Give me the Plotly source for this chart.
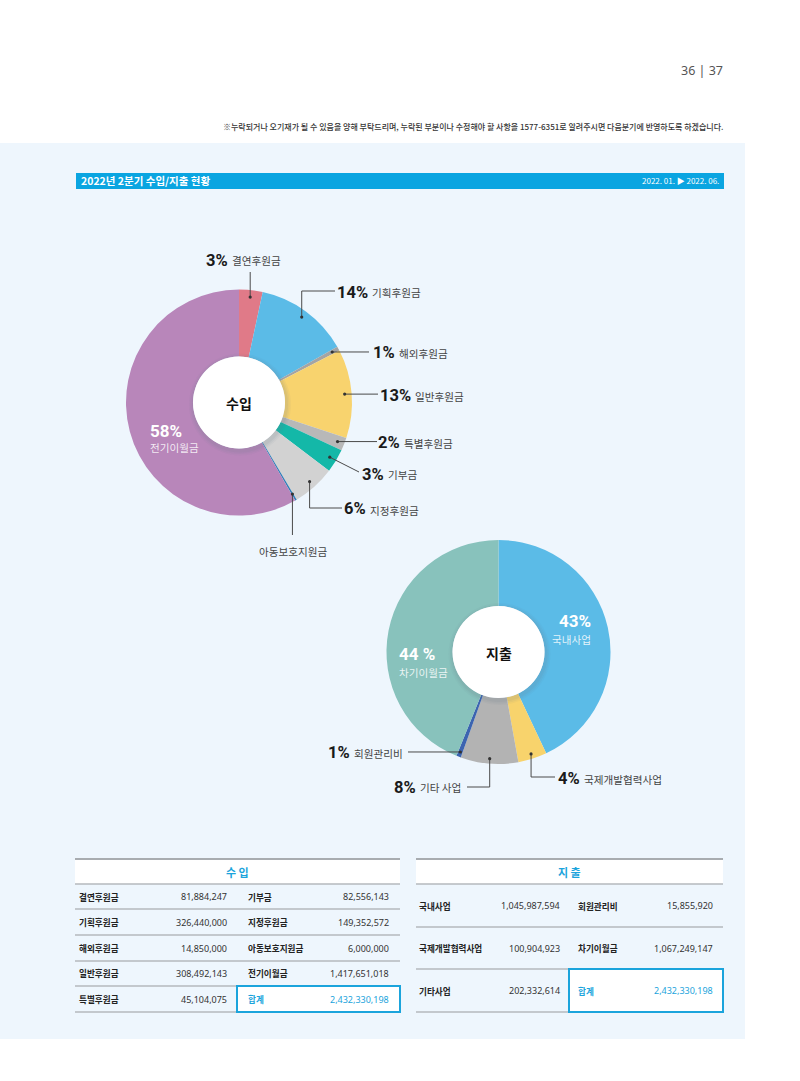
import math
import plotly.graph_objects as go

W, H = 800, 1081

# ---------------- data ----------------
income_labels = ['결연후원금', '기획후원금', '해외후원금', '일반후원금', '특별후원금',
                 '기부금', '지정후원금', '아동보호지원금', '전기이월금']
income_values = [81884247, 326440000, 14850000, 308492143, 45104075,
                 82556143, 149352572, 6000000, 1417651018]
income_pct = ['3%', '14%', '1%', '13%', '2%', '3%', '6%', '', '58%']
income_colors = ['#E07A88', '#5BBBE7', '#A4A4A4', '#F8D36E', '#B8B8B8',
                 '#14B8A8', '#D2D2D2', '#2E7FB8', '#B886BA']

expense_labels = ['국내사업', '국제개발협력사업', '기타사업', '회원관리비', '차기이월금']
expense_chart_labels = ['국내사업', '국제개발협력사업', '기타 사업', '회원관리비', '차기이월금']
expense_values = [1045987594, 100904923, 202332614, 15855920, 1067249147]
expense_pct = ['43%', '4%', '8%', '1%', '44 %']
expense_colors = ['#5BBBE7', '#F8D36C', '#B3B3B3', '#3C64B0', '#88C2BC']

total_label = '합계'
total_value = 2432330198

title_text = '2022년 2분기 수입/지출 현황'
period_text = '2022. 01. ▶ 2022. 06.'
note_text = ('※누락되거나 오기재가 될 수 있음을 양해 부탁드리며, 누락된 부분이나 수정해야 할 사항을 '
             '1577-6351로 알려주시면 다음분기에 반영하도록 하겠습니다.')
page_text = '36 | 37'

# ---------------- helpers ----------------
KR = 'Noto Sans CJK KR, Noto Sans, sans-serif'
NUM = 'Roboto, Liberation Sans, sans-serif'
BLUE = '#1BA4DC'
LBL = 10.6
PCT = 16.5


def X(px):
    return px / W


def Y(py):
    return 1 - py / H


fig = go.Figure()
shapes = []
annotations = []


def txt(px, py, s, size, color='#222', family=KR, xanchor='left', weight=None):
    f = dict(size=size, color=color, family=family)
    if weight:
        f['weight'] = weight
    annotations.append(dict(x=X(px), y=Y(py), xref='paper', yref='paper', text=s,
                            showarrow=False, xanchor=xanchor, yanchor='middle',
                            font=f, borderpad=0))


def line(x0, y0, x1, y1, color='#555', width=1):
    shapes.append(dict(type='line', xref='paper', yref='paper', x0=X(x0), y0=Y(y0),
                       x1=X(x1), y1=Y(y1), line=dict(color=color, width=width)))


def rect(x0, y0, x1, y1, fill, lc=None, lw=0, layer='below'):
    shapes.append(dict(type='rect', xref='paper', yref='paper', x0=X(x0), y0=Y(y1),
                       x1=X(x1), y1=Y(y0), fillcolor=fill, layer=layer,
                       line=dict(color=lc or fill, width=lw)))


def circle(cx, cy, r, fill, opacity=1.0):
    shapes.append(dict(type='circle', xref='paper', yref='paper', x0=X(cx - r), x1=X(cx + r),
                       y0=Y(cy + r), y1=Y(cy - r), fillcolor=fill, opacity=opacity,
                       line=dict(width=0), layer='above'))


# ---------------- background ----------------
rect(0, 143, 745, 1039, '#EEF6FD')
rect(76, 173, 724, 189, '#0AA5E1')
txt(80, 181, '<b>' + title_text + '</b>', 10.5, 'white')
txt(720, 181, period_text, 8.0, 'white', xanchor='right')
txt(724, 127, note_text, 8.0, '#333', xanchor='right', weight=500)
txt(724, 70, page_text, 12.5, '#555', family='Noto Sans, sans-serif', xanchor='right')

# ---------------- pies ----------------
P1 = dict(cx=239, cy=402.5, r=113, hole=46, ar=106)
P2 = dict(cx=498.5, cy=652, r=112, hole=46, ar=107)


def add_pie(labels, values, colors, P, name):
    fig.add_trace(go.Pie(
        labels=labels, values=values, sort=False, direction='clockwise', rotation=0,
        marker=dict(colors=colors, line=dict(width=0)), hole=P['hole'] / P['r'],
        textinfo='none', hoverinfo='label+value+percent', showlegend=False, name=name,
        domain=dict(x=[X(P['cx'] - P['r']), X(P['cx'] + P['r'])],
                    y=[Y(P['cy'] + P['r']), Y(P['cy'] - P['r'])])))


add_pie(income_labels, income_values, income_colors, P1, '수입')
add_pie(expense_chart_labels, expense_values, expense_colors, P2, '지출')


def anchor(values, i, P):
    tot = sum(values)
    frac = (sum(values[:i]) + values[i] / 2) / tot
    th = 2 * math.pi * frac
    return P['cx'] + P['ar'] * math.sin(th), P['cy'] - P['ar'] * math.cos(th)


# centre discs
for P, word in ((P1, '수입'), (P2, '지출')):
    for k, op in ((5, 0.05), (3.5, 0.07), (2, 0.09)):
        circle(P['cx'] + 1, P['cy'] + 2, P['hole'] + k, '#6a7a8a', op)
    circle(P['cx'], P['cy'], P['hole'], 'white')
    txt(P['cx'], P['cy'] + 1, '<b>' + word + '</b>', 14, '#111', xanchor='center')

# leader routes (layout) : list of ('v', y) / ('h', x) / ('p', x, y)
routes1 = [[('v', 272)], [('v', 291), ('h', 335)], [('h', 369)], [('h', 378)], [('h', 377)],
           [('p', 359, 472)], [('v', 508), ('h', 342)], [('v', 535)], None]
label_pos1 = [(229, 260), (369, 292), (396, None), (412, None), (401, None),
              (385, 474), (367, 509), (293, 551), None]
routes2 = [None, [('v', 777), ('h', 555)], [('v', 787), ('h', 467)], [('h', 408)], None]
label_pos2 = [None, (581, 778), (417, 787), (351, None), None]


def draw_leaders(values, labels, pcts, routes, lpos, P):
    for i, rt in enumerate(routes):
        if rt is None:
            continue
        ax, ay = anchor(values, i, P)
        px, py = ax, ay
        for step in rt:
            if step[0] == 'v':
                nx, ny = px, step[1]
            elif step[0] == 'h':
                nx, ny = step[1], py
            else:
                nx, ny = step[1], step[2]
            line(px, py, nx, ny, '#4a4a4a', 1)
            px, py = nx, ny
        circle(ax, ay, 1.6, '#333')
        sx, sy = lpos[i]
        if sy is None:
            sy = ay + 1
        if pcts[i]:
            txt(sx, sy, '<b>' + pcts[i] + '</b>', PCT, '#1a1a1a', family=NUM, xanchor='right')
            txt(sx + 2, sy + 1, labels[i], LBL, '#444')
        else:
            txt(sx, sy, labels[i], LBL, '#444', xanchor='center')


draw_leaders(income_values, income_labels, income_pct, routes1, label_pos1, P1)
draw_leaders(expense_values, expense_chart_labels, expense_pct, routes2, label_pos2, P2)

# in-slice labels
txt(149, 431, '<b>' + income_pct[8] + '</b>', PCT + 0.5, 'white', family=NUM)
txt(149, 448, income_labels[8], LBL, 'rgba(255,255,255,0.85)')
txt(592, 621, '<b>' + expense_pct[0] + '</b>', PCT + 0.5, 'white', family=NUM, xanchor='right')
txt(592, 639, expense_labels[0], LBL, 'rgba(255,255,255,0.85)', xanchor='right')
txt(398, 654, '<b>' + expense_pct[4] + '</b>', PCT + 0.5, 'white', family=NUM)
txt(398, 672, expense_labels[4], LBL, 'rgba(255,255,255,0.85)')

# ---------------- tables ----------------
fmt = lambda v: f'{v:,}'


def table(x0, x1, header, lines_y, left, right, cols, box_x0):
    rect(x0, 859, x1, lines_y[0], 'white')
    line(x0, 859, x1, 859, '#A8ACB0', 2)
    for yy in lines_y:
        line(x0, yy, x1, yy, '#B5B9BD', 1.3)
    txt((x0 + x1) / 2, 871.5, '<b>' + header + '</b>', 11, BLUE, xanchor='center')
    # total box
    rect(box_x0, lines_y[-2], x1, lines_y[-1], 'white', BLUE, 2, layer='above')
    for r in range(len(lines_y) - 1):
        cy = (lines_y[r] + lines_y[r + 1]) / 2
        lab, val = left[r]
        txt(cols[0], cy, '<b>' + lab + '</b>', 8.6, '#222')
        txt(cols[1], cy, fmt(val), 9, '#333', family='Noto Sans, sans-serif', xanchor='right')
        lab, val = right[r]
        c = BLUE if lab == total_label else '#222'
        c2 = BLUE if lab == total_label else '#333'
        txt(cols[2], cy, '<b>' + lab + '</b>', 8.6, c)
        txt(cols[3], cy, fmt(val), 9, c2, family='Noto Sans, sans-serif', xanchor='right')


inc_left = list(zip(income_labels[:5], income_values[:5]))
inc_right = list(zip(income_labels[5:], income_values[5:])) + [(total_label, total_value)]
table(75, 400, '수 입', [884, 909, 935, 961, 986, 1012], inc_left, inc_right,
      [78, 228, 247, 390], 237)

exp_left = list(zip(expense_labels[:3], expense_values[:3]))
exp_right = list(zip(expense_labels[3:], expense_values[3:])) + [(total_label, total_value)]
table(416, 723, '지 출', [884, 927, 969, 1012], exp_left, exp_right,
      [418, 561, 577, 714], 569)

fig.update_layout(width=W, height=H, margin=dict(l=0, r=0, t=0, b=0),
                  paper_bgcolor='white', plot_bgcolor='white',
                  shapes=shapes, annotations=annotations, showlegend=False)
fig.write_html('out.html')
